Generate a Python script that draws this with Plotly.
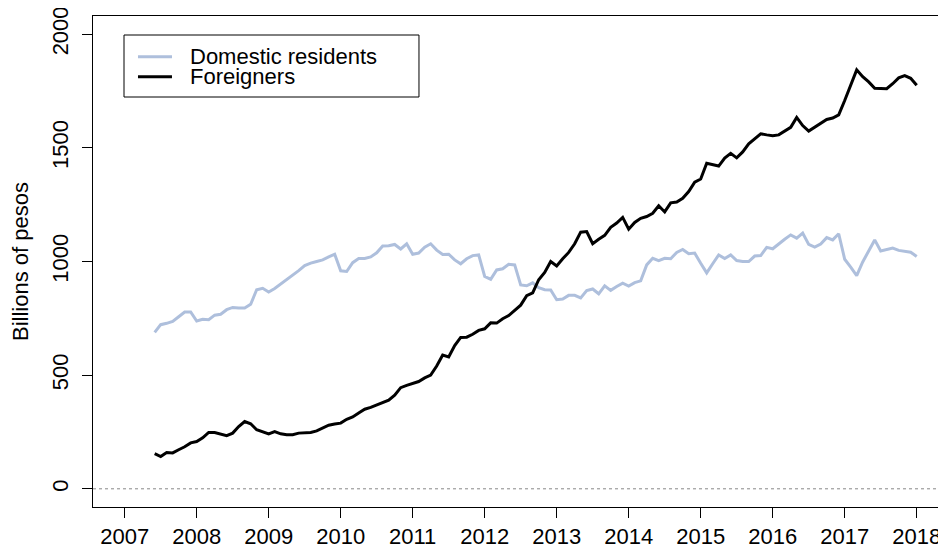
import plotly.graph_objects as go

# Monthly data, June 2007 - January 2018 (billions of pesos)
start_year = 2007
start_month = 6

domestic = [
    # 2007 Jun-Dec
    688, 722, 728, 736, 757, 778, 778,
    # 2008
    738, 746, 744, 764, 768, 788, 798, 795, 795, 812, 876, 882,
    # 2009
    866, 881, 900, 920, 942, 960, 982, 993, 1000, 1007, 1020, 1032,
    # 2010
    959, 956, 995, 1013, 1013, 1020, 1038, 1068, 1069, 1075, 1055, 1078,
    # 2011
    1032, 1037, 1063, 1078, 1050, 1031, 1032, 1007, 990, 1012, 1026, 1029,
    # 2012
    934, 922, 963, 968, 988, 985, 897, 893, 906, 885, 876, 875,
    # 2013
    832, 835, 851, 851, 840, 872, 879, 858, 893, 873, 890, 905,
    # 2014
    892, 907, 915, 985, 1014, 1004, 1014, 1012, 1040, 1053, 1034, 1037,
    # 2015
    992, 950, 990, 1029, 1013, 1029, 1004, 1000, 1000, 1024, 1026, 1062,
    # 2016
    1056, 1078, 1098, 1117, 1103, 1125, 1075, 1063, 1077, 1105, 1095, 1122,
    # 2017
    1010, 975, 938, 998, 1044, 1095, 1046, 1051, 1059, 1049, 1044, 1041,
    # 2018 Jan
    1022,
]

foreigners = [
    # 2007 Jun-Dec
    155, 142, 160, 158, 172, 185, 202,
    # 2008
    208, 224, 248, 248, 242, 234, 245, 274, 296, 286, 260, 252,
    # 2009
    242, 252, 242, 238, 238, 245, 245, 248, 255, 267, 280, 285,
    # 2010
    289, 306, 316, 334, 350, 358, 368, 378, 390, 412, 445, 455,
    # 2011
    462, 472, 488, 500, 540, 588, 580, 630, 666, 667, 680, 697,
    # 2012
    704, 730, 729, 748, 762, 785, 808, 850, 862, 920, 952, 1000,
    # 2013
    980, 1012, 1040, 1078, 1129, 1132, 1078, 1098, 1115, 1150, 1169, 1194,
    # 2014
    1142, 1172, 1190, 1198, 1212, 1245, 1218, 1258, 1262, 1278, 1308, 1349,
    # 2015
    1363, 1432, 1425, 1420, 1455, 1476, 1456, 1482, 1518, 1538, 1562, 1557,
    # 2016
    1553, 1557, 1572, 1590, 1634, 1598, 1574, 1592, 1610, 1625, 1631, 1645,
    # 2017
    1708, 1780, 1843, 1813, 1790, 1762, 1760, 1760, 1782, 1808, 1818, 1806,
    # 2018 Jan
    1775,
]

series_names = ["Domestic residents", "Foreigners"]
series_colors = ["#aebfdc", "black"]

x_ticks = list(range(2007, 2019))
y_ticks = [0, 500, 1000, 1500, 2000]

# decimal-year time index (R ts style)
t = [start_year + (start_month - 1 + i) / 12 for i in range(len(domestic))]

FONT = "Liberation Sans, Arial, Helvetica, sans-serif"

fig = go.Figure()
for name, vals, col in zip(series_names, [domestic, foreigners], series_colors):
    fig.add_trace(go.Scatter(x=t, y=vals, mode="lines", name=name,
                             line=dict(color=col, width=3), showlegend=False))

# R-style boxed legend (drawn in paper coordinates)
shapes = [
    dict(type="line", xref="paper", yref="y", x0=0, x1=1, y0=0, y1=0,
         line=dict(color="#888888", width=1, dash="dot")),
    dict(type="rect", xref="paper", yref="paper", x0=0.0364, x1=0.3826,
         y0=0.835, y1=0.9613, line=dict(color="black", width=1),
         fillcolor="rgba(0,0,0,0)"),
]
annotations = []
leg_y = [0.9171, 0.8764]
for name, col, ly in zip(series_names, series_colors, leg_y):
    shapes.append(dict(type="line", xref="paper", yref="paper",
                       x0=0.0528, x1=0.0927, y0=ly, y1=ly,
                       line=dict(color=col, width=3)))
    annotations.append(dict(text=name, xref="paper", yref="paper",
                            x=0.1115, y=ly, xanchor="left", yanchor="middle",
                            showarrow=False,
                            font=dict(size=22, family=FONT, color="black")))

fig.update_layout(
    width=938, height=540,
    margin=dict(l=85, r=1, t=8, b=41),
    paper_bgcolor="white", plot_bgcolor="white",
    font=dict(family=FONT, size=22, color="black"),
    showlegend=False,
    shapes=shapes,
    annotations=annotations,
)

fig.update_xaxes(range=[2006.56, 2018.393], tickvals=x_ticks,
                 ticks="outside", ticklen=10, tickcolor="black", tickwidth=1,
                 showline=True, linecolor="black", linewidth=1, mirror=True,
                 showgrid=False, zeroline=False, automargin=False,
                 ticklabeloverflow="allow",
                 tickfont=dict(size=22, family=FONT))
fig.update_yaxes(range=[-80, 2080], tickvals=y_ticks,
                 ticks="outside", ticklen=10, tickcolor="black", tickwidth=1,
                 tickangle=-90, ticklabelstandoff=5,
                 ticklabeloverflow="allow",
                 showline=True, linecolor="black", linewidth=1, mirror=True,
                 showgrid=False, zeroline=False, automargin=False,
                 title=dict(text="Billions of pesos", standoff=14,
                            font=dict(size=22, family=FONT)),
                 tickfont=dict(size=22, family=FONT))

fig.write_html("out.html")
